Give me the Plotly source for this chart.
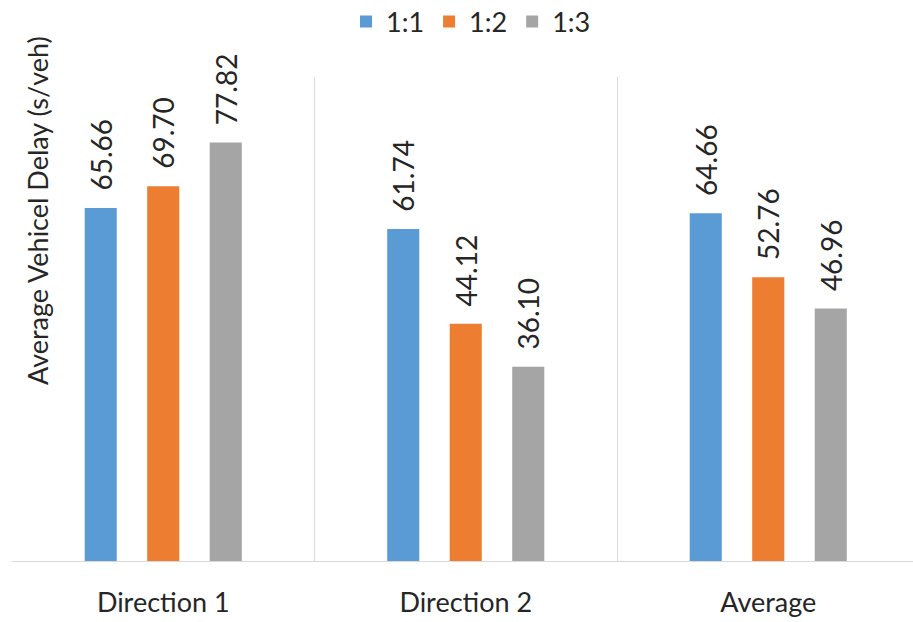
import plotly.graph_objects as go

categories = ["Direction 1", "Direction 2", "Average"]
series_names = ["1:1", "1:2", "1:3"]
values_11 = [65.66, 61.74, 64.66]
values_12 = [69.70, 44.12, 52.76]
values_13 = [77.82, 36.10, 46.96]
colors = ["#5B9BD5", "#ED7D31", "#A5A5A5"]
y_title = "Average Vehicel Delay (s/veh)"

W, H = 913, 622
ML, MT, MB = 12, 77, 61
cat_px = 302.5
FONT = "Lato, 'Open Sans', sans-serif"
TXT = "#262626"

x_idx = list(range(len(categories)))
fig = go.Figure()
for name, vals, col in zip(series_names, [values_11, values_12, values_13], colors):
    fig.add_trace(go.Bar(
        x=x_idx, y=vals, name=name, marker=dict(color=col, line=dict(width=0)),
        text=[f"\u00a0\u00a0{v:.2f}" for v in vals], textposition="outside", textangle=-90,
        constraintext="none", cliponaxis=False,
        textfont=dict(family=FONT, size=28, color=TXT),
    ))

x_max = -0.5 + (W - ML) / cat_px
fig.update_layout(
    width=W, height=H, barmode="group", bargap=0.38, bargroupgap=0.487,
    margin=dict(l=ML, r=0, t=MT, b=MB, pad=0, autoexpand=False),
    plot_bgcolor="white", paper_bgcolor="white",
    font=dict(family=FONT, size=27, color=TXT),
    legend=dict(orientation="h", x=(471 - ML) / (W - ML), xanchor="center",
                y=1 - 22 / H, yanchor="middle",
                yref="container", font=dict(size=27, color=TXT), itemclick=False,
                itemwidth=30, tracegroupgap=0),
    xaxis=dict(range=[-0.5, x_max], tickvals=x_idx, ticktext=categories, showgrid=False,
               showline=True, linecolor="#D9D9D9", linewidth=1, ticks="", zeroline=False,
               ticklabelstandoff=18, tickfont=dict(size=27, color=TXT), automargin=False,
               minor=dict(tickvals=[-0.5, 0.5, 1.5, 2.5], showgrid=True, gridcolor="#D9D9D9",
                          gridwidth=1, ticks="")),
    yaxis=dict(range=[0, 90], showticklabels=False, showgrid=False, zeroline=False,
               showline=False, ticks="", automargin=False),
    annotations=[dict(text=y_title, textangle=-90, xref="paper", yref="paper",
                      x=(38 - ML) / (W - ML), y=(H - MB - 211) / (H - MT - MB),
                      xanchor="center", yanchor="middle", showarrow=False,
                      font=dict(family=FONT, size=27, color=TXT))],
)
fig.write_html("out.html", config={"displayModeBar": False},
               post_script="document.body.style.margin='0';document.body.style.overflow='hidden';")
